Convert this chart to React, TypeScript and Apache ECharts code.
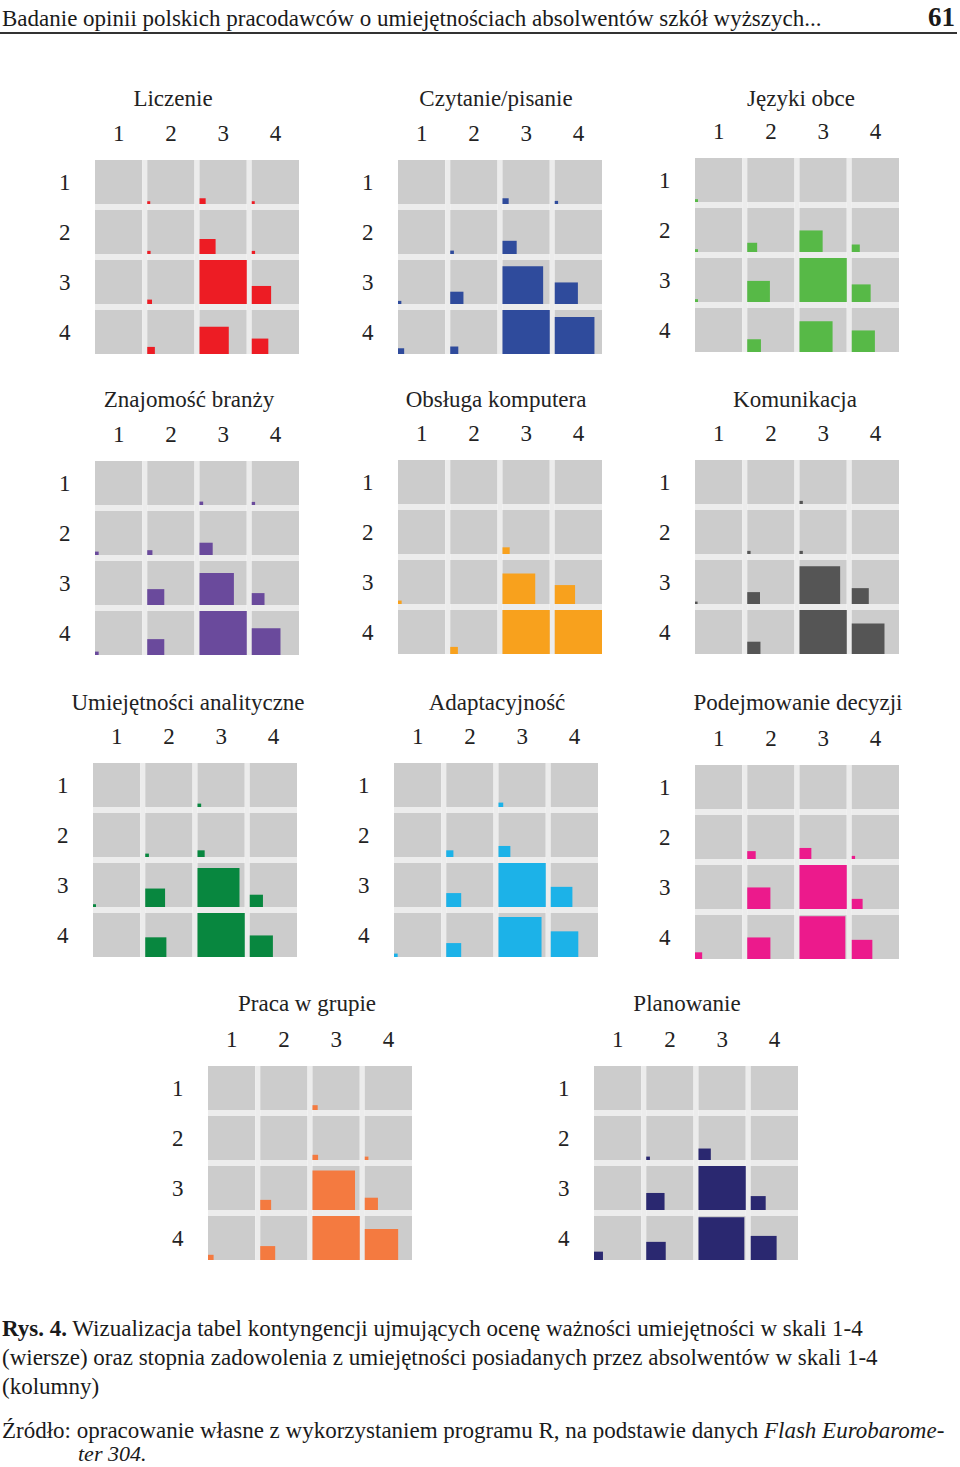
import React, { useEffect, useRef } from "react";
import * as echarts from "echarts";

// ---- DATA (relative cell frequency, largest cell in each panel = 100) ----
const colLabels = ["1", "2", "3", "4"]; // zadowolenie (columns)
const rowLabels = ["1", "2", "3", "4"]; // ważność (rows)

const skills = [
  "Liczenie",
  "Czytanie/pisanie",
  "Języki obce",
  "Znajomość branży",
  "Obsługa komputera",
  "Komunikacja",
  "Umiejętności analityczne",
  "Adaptacyjność",
  "Podejmowanie decyzji",
  "Praca w grupie",
  "Planowanie",
];

const skillColors = [
  "#ed1c24",
  "#2f4b9c",
  "#57b947",
  "#6a4a9c",
  "#f8a11d",
  "#555555",
  "#08873f",
  "#1cb2e8",
  "#ec1a8c",
  "#f47a40",
  "#2a2870",
];

// rows 1..4, each with columns 1..4
const liczenie = [
  [0, 0.4, 1.7, 0.4],
  [0, 0.5, 11.6, 0.5],
  [0, 1.0, 100, 16.8],
  [0, 2.6, 38.4, 12.3],
];
const czytaniePisanie = [
  [0, 0, 1.7, 0.5],
  [0, 0.6, 9.0, 0],
  [0.5, 7.8, 74, 24],
  [1.7, 2.9, 100, 70.6],
];
const jezykiObce = [
  [0.4, 0, 0, 0],
  [0.4, 4.4, 24, 2.9],
  [0.4, 23, 100, 16],
  [0, 8.4, 49, 24],
];
const znajomoscBranzy = [
  [0, 0, 0.6, 0.5],
  [0.6, 1.2, 7.8, 0],
  [0, 13, 53, 7.3],
  [0.6, 13, 100, 37],
];
const obslugaKomputera = [
  [0, 0, 0, 0],
  [0, 0, 2.3, 0],
  [0.6, 0, 48, 18.5],
  [0, 2.6, 100, 100],
];
const komunikacja = [
  [0, 0, 0.5, 0],
  [0, 0.5, 0.5, 0],
  [0.3, 7.3, 74, 13],
  [0, 7.8, 100, 48],
];
const umiejetnosciAnalityczne = [
  [0, 0, 0.6, 0],
  [0, 0.6, 2.3, 0],
  [0.4, 17.6, 79, 7.8],
  [0, 20, 100, 24],
];
const adaptacyjnosc = [
  [0, 0, 1.0, 0],
  [0, 2.3, 6.3, 0],
  [0, 10, 100, 21],
  [0.6, 10, 83, 34],
];
const podejmowanieDecyzji = [
  [0, 0, 0, 0],
  [0, 3.2, 6.3, 0.5],
  [0, 24, 100, 5.3],
  [2.3, 24, 94, 19],
];
const pracaWGrupie = [
  [0, 0, 1.2, 0],
  [0, 0, 1.4, 0.6],
  [0, 5.3, 81, 7.8],
  [1.4, 10, 100, 50],
];
const planowanie = [
  [0, 0, 0, 0],
  [0, 0.6, 6.8, 0],
  [0, 15, 100, 10],
  [3.6, 17, 94, 30],
];

const tables = [
  liczenie,
  czytaniePisanie,
  jezykiObce,
  znajomoscBranzy,
  obslugaKomputera,
  komunikacja,
  umiejetnosciAnalityczne,
  adaptacyjnosc,
  podejmowanieDecyzji,
  pracaWGrupie,
  planowanie,
];

const headerText =
  "Badanie opinii polskich pracodawców o umiejętnościach absolwentów szkół wyższych...";
const pageNumber = "61";
const captionLines = [
  "{b|Rys. 4.} Wizualizacja tabel kontyngencji ujmujących ocenę ważności umiejętności w skali 1-4",
  "(wiersze) oraz stopnia zadowolenia z umiejętności posiadanych przez absolwentów w skali 1-4",
  "(kolumny)",
];
const sourceLine1 =
  "Źródło: opracowanie własne z wykorzystaniem programu R, na podstawie danych {i|Flash Eurobarome-}";
const sourceLine2 = "ter 304.";

// ---- LAYOUT ----
const GAP_X = 5;
const GAP_Y = 6;
const CELLS_W = 204;
const CELLS_H = 194;
const panels = [
  { x: 95, y: 160, tx: 173, ty: 98 },
  { x: 398, y: 160, tx: 496, ty: 98 },
  { x: 695, y: 158, tx: 801, ty: 98 },
  { x: 95, y: 461, tx: 189, ty: 399 },
  { x: 398, y: 460, tx: 496, ty: 399 },
  { x: 695, y: 460, tx: 795, ty: 399 },
  { x: 93, y: 763, tx: 188, ty: 702 },
  { x: 394, y: 763, tx: 497, ty: 702 },
  { x: 695, y: 765, tx: 798, ty: 702 },
  { x: 208, y: 1066, tx: 307, ty: 1003 },
  { x: 594, y: 1066, tx: 687, ty: 1003 },
];

const SERIF = "'Liberation Serif', 'DejaVu Serif', serif";
const CAP_SIZE = 23;

export default function App() {
  const ref = useRef<HTMLDivElement>(null);

  useEffect(() => {
    if (!ref.current) return;
    const chart = echarts.init(ref.current, null, { renderer: "svg" });

    const grids: any[] = [];
    const xAxes: any[] = [];
    const yAxes: any[] = [];
    const series: any[] = [];
    const graphics: any[] = [];

    panels.forEach((p, k) => {
      grids.push({
        left: p.x - GAP_X / 2,
        top: p.y - GAP_Y / 2,
        width: CELLS_W + GAP_X,
        height: CELLS_H + GAP_Y,
        containLabel: false,
      });
      xAxes.push({
        type: "category",
        gridIndex: k,
        position: "top",
        data: colLabels,
        axisLine: { show: false },
        axisTick: { show: false },
        splitLine: { show: false },
        axisLabel: {
          margin: 12,
          fontFamily: SERIF,
          fontSize: 23,
          color: "#222",
        },
      });
      yAxes.push({
        type: "category",
        gridIndex: k,
        inverse: true,
        data: rowLabels,
        axisLine: { show: false },
        axisTick: { show: false },
        splitLine: { show: false },
        axisLabel: {
          margin: 22,
          fontFamily: SERIF,
          fontSize: 23,
          color: "#222",
        },
      });

      const table = tables[k];
      let maxV = 0;
      const data: number[][] = [];
      table.forEach((row, r) =>
        row.forEach((v, c) => {
          data.push([c, r, v]);
          if (v > maxV) maxV = v;
        })
      );
      const color = skillColors[k];

      series.push({
        type: "custom",
        xAxisIndex: k,
        yAxisIndex: k,
        data,
        encode: { x: 0, y: 1 },
        renderItem: (params: any, api: any) => {
          const ci = api.value(0);
          const ri = api.value(1);
          const v = api.value(2);
          const ctr = api.coord([ci, ri]);
          const band = api.size([1, 1]);
          const cw = band[0] - GAP_X;
          const ch = band[1] - GAP_Y;
          const left = ctr[0] - cw / 2;
          const top = ctr[1] - ch / 2;
          const children: any[] = [
            {
              type: "rect",
              shape: { x: left, y: top, width: cw, height: ch },
              style: { fill: "#cccccc" },
            },
          ];
          if (ci < 3) {
            children.push({
              type: "rect",
              shape: {
                x: left + cw,
                y: top,
                width: GAP_X,
                height: ch + (ri < 3 ? GAP_Y : 0),
              },
              style: { fill: "#ececec" },
            });
          }
          if (ri < 3) {
            children.push({
              type: "rect",
              shape: { x: left, y: top + ch, width: cw, height: GAP_Y },
              style: { fill: "#ececec" },
            });
          }
          if (v > 0) {
            const f = Math.sqrt(v / maxV);
            const w = f * cw;
            const h = f * ch;
            children.push({
              type: "rect",
              shape: { x: left, y: top + ch - h, width: w, height: h },
              style: { fill: color },
            });
          }
          return { type: "group", children };
        },
      });

      graphics.push({
        type: "text",
        x: p.tx,
        y: p.ty,
        style: {
          text: skills[k],
          fontFamily: SERIF,
          fontSize: 23,
          fill: "#222",
          align: "center",
          verticalAlign: "middle",
          textAlign: "center",
          textVerticalAlign: "middle",
        },
      });
    });

    // header
    graphics.push({
      type: "text",
      x: 2,
      y: 18,
      style: {
        text: headerText,
        fontFamily: SERIF,
        fontSize: 23,
        fill: "#1a1a1a",
        align: "left",
        verticalAlign: "middle",
        textAlign: "left",
        textVerticalAlign: "middle",
      },
    });
    graphics.push({
      type: "text",
      x: 955,
      y: 17,
      style: {
        text: pageNumber,
        fontFamily: SERIF,
        fontSize: 27,
        fontWeight: "bold",
        fill: "#1a1a1a",
        align: "right",
        verticalAlign: "middle",
        textAlign: "right",
        textVerticalAlign: "middle",
      },
    });
    graphics.push({
      type: "line",
      shape: { x1: 0, y1: 33, x2: 957, y2: 33 },
      style: { stroke: "#333", lineWidth: 2 },
    });

    // caption
    captionLines.forEach((t, i) => {
      graphics.push({
        type: "text",
        x: 2,
        y: 1328 + i * 29,
        style: {
          text: t,
          fontFamily: SERIF,
          fontSize: CAP_SIZE,
          fill: "#1a1a1a",
          align: "left",
          verticalAlign: "middle",
          textAlign: "left",
          textVerticalAlign: "middle",
          rich: {
            b: {
              fontFamily: SERIF,
              fontSize: CAP_SIZE,
              fontWeight: "bold",
              fill: "#1a1a1a",
            },
          },
        },
      });
    });
    graphics.push({
      type: "text",
      x: 2,
      y: 1430,
      style: {
        text: sourceLine1,
        fontFamily: SERIF,
        fontSize: CAP_SIZE,
        fill: "#1a1a1a",
        align: "left",
        verticalAlign: "middle",
        textAlign: "left",
        textVerticalAlign: "middle",
        rich: {
          i: {
            fontFamily: SERIF,
            fontSize: CAP_SIZE,
            fontStyle: "italic",
            fill: "#1a1a1a",
          },
        },
      },
    });
    graphics.push({
      type: "text",
      x: 78,
      y: 1453,
      style: {
        text: sourceLine2,
        fontFamily: SERIF,
        fontSize: CAP_SIZE - 1,
        fontStyle: "italic",
        fill: "#1a1a1a",
        align: "left",
        verticalAlign: "middle",
        textAlign: "left",
        textVerticalAlign: "middle",
      },
    });

    chart.setOption({
      animation: false,
      backgroundColor: "#ffffff",
      grid: grids,
      xAxis: xAxes,
      yAxis: yAxes,
      series,
      graphic: { elements: graphics },
    });

    return () => chart.dispose();
  }, []);

  return (
    <div
      ref={ref}
      style={{ position: "absolute", left: 0, top: 0, width: 960, height: 1467 }}
    />
  );
}
